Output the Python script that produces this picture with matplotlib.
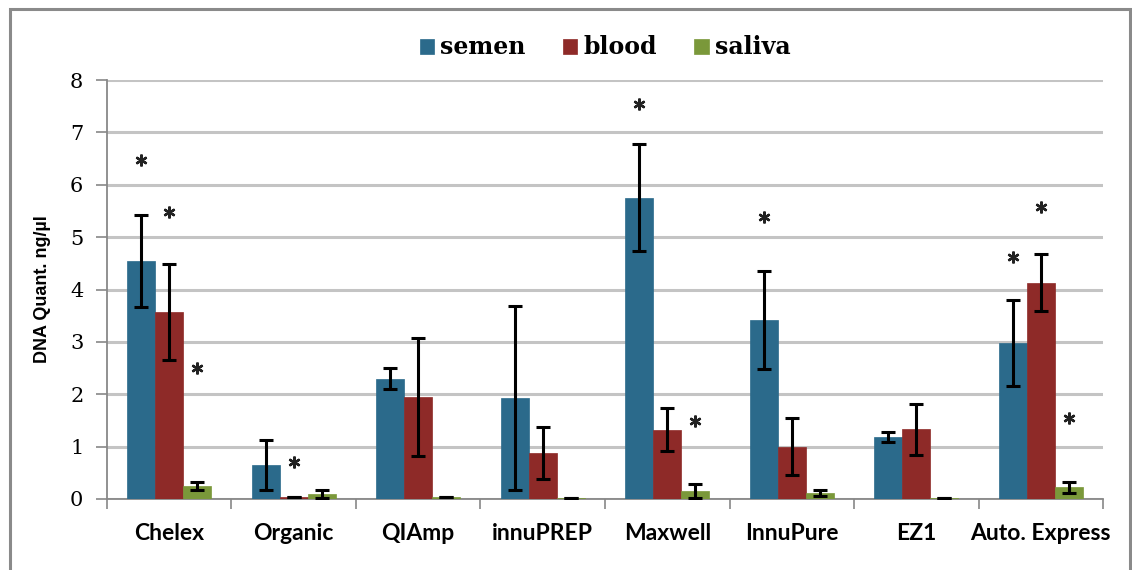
import matplotlib
matplotlib.use("Agg")
import matplotlib.pyplot as plt
import numpy as np
from matplotlib.patches import Rectangle

categories = ["Chelex", "Organic", "QIAmp", "innuPREP", "Maxwell", "InnuPure", "EZ1", "Auto. Express"]
series = ["semen", "blood", "saliva"]
semen = [4.55, 0.65, 2.30, 1.93, 5.75, 3.42, 1.18, 2.98]
blood = [3.57, 0.03, 1.95, 0.88, 1.32, 1.00, 1.33, 4.13]
saliva = [0.25, 0.09, 0.03, 0.02, 0.15, 0.12, 0.01, 0.22]
semen_err = [0.88, 0.48, 0.20, 1.75, 1.02, 0.93, 0.09, 0.82]
blood_err = [0.92, 0.00, 1.13, 0.50, 0.41, 0.55, 0.49, 0.55]
saliva_err = [0.08, 0.08, 0.00, 0.00, 0.13, 0.06, 0.00, 0.11]
# significance markers: (category index, series index, height)
stars = [(0, 0, 6.47), (0, 1, 5.48), (0, 2, 2.50), (1, 1, 0.70),
         (4, 0, 7.55), (4, 2, 1.49), (5, 0, 5.38),
         (7, 0, 4.62), (7, 1, 5.57), (7, 2, 1.55)]
yticks = [0, 1, 2, 3, 4, 5, 6, 7, 8]

colors = ["#2B6A8B", "#8E2A28", "#7A983A"]
values = [semen, blood, saliva]
errors = [semen_err, blood_err, saliva_err]

fig = plt.figure(figsize=(11.32, 5.70), dpi=100)
ax = fig.add_axes([0.0945, 0.1246, 0.8799, 0.7350])

x = np.arange(len(categories))
w = 0.225
offsets = [-w, 0, w]
for i in range(3):
    ax.bar(x + offsets[i], values[i], width=w, color=colors[i], label=series[i],
           zorder=3, edgecolor=colors[i], linewidth=0.5)
    ax.errorbar(x + offsets[i], values[i], yerr=errors[i], fmt="none", ecolor="black",
                elinewidth=2.2, capsize=5, capthick=2.2, zorder=4)

for ci, si, h in stars:
    ax.plot(ci + offsets[si], h, marker=(6, 2, 0), markersize=8.5, mew=1.7,
            color="#222222", linestyle="none", zorder=5)

ax.set_xlim(-0.5, 7.5)
ax.set_ylim(0, 8)
ax.set_yticks(yticks)
ax.set_yticklabels([str(t) for t in yticks], fontfamily="DejaVu Serif", fontsize=15)
ax.set_xticks(x)
ax.set_xticklabels(categories, fontfamily="Lato", fontweight="bold", fontsize=16.5)
ax.set_xticks(np.arange(len(categories) + 1) - 0.5, minor=True)
ax.tick_params(axis="x", which="major", length=0, pad=17)
ax.tick_params(axis="x", which="minor", length=7, width=1.2, color="#888888", direction="out")
ax.tick_params(axis="y", length=8, width=1.2, color="#888888", direction="out", pad=9)

ax.grid(axis="y", color="#c4c4c4", linewidth=2.2, zorder=0)
ax.set_axisbelow(True)
for s in ["top", "right"]:
    ax.spines[s].set_visible(False)
for s in ["left", "bottom"]:
    ax.spines[s].set_color("#888888")
    ax.spines[s].set_linewidth(1.3)

ax.set_ylabel("DNA Quant. ng/\u00b5l", fontfamily="Liberation Sans", fontweight="bold",
              fontsize=13, labelpad=14)

leg = ax.legend(loc="center", bbox_to_anchor=(0.5, 1.078), ncol=3, frameon=False,
                prop={"family": "DejaVu Serif", "weight": "bold", "size": 17},
                handlelength=0.6, handleheight=0.6, handletextpad=0.25, columnspacing=1.6)

fig.patches.append(Rectangle((10 / 1132, -0.05), 1120 / 1132, 1.05 - 9 / 570,
                             transform=fig.transFigure, fill=False,
                             edgecolor="#8a8a8a", linewidth=2.2))

fig.savefig("out.png", dpi=100)
